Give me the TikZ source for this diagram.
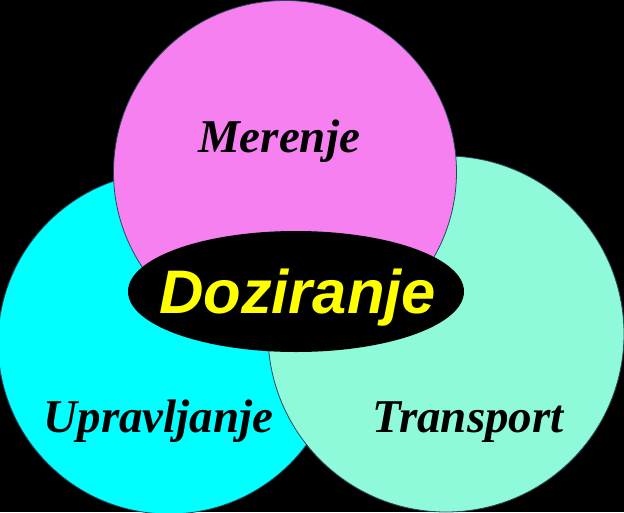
\documentclass[tikz,border=0pt]{standalone}
\usepackage{fontspec}
\setmainfont{Liberation Serif}
\newfontfamily\arialf{Liberation Sans}
\usetikzlibrary{shapes.geometric}
\definecolor{pinkc}{RGB}{247,128,240}
\definecolor{cyanc}{RGB}{0,255,255}
\definecolor{aquac}{RGB}{142,250,218}
\definecolor{yellowc}{RGB}{255,255,0}
\definecolor{edgec}{RGB}{40,70,90}
\tikzset{
  venn/.style={circle, inner sep=0pt, outer sep=0pt, draw=edgec, line width=0.8pt},
  lbl/.style={anchor=base, inner sep=0pt, font=\fontsize{47}{50}\selectfont\bfseries\itshape, text=black}
}
\begin{document}
\begin{tikzpicture}[x=1pt,y=-1pt]
\fill[black] (0,0) rectangle (624,512);
\useasboundingbox (0,0) rectangle (624,512);
\begin{scope}
\clip (0,0) rectangle (624,512);
\node[venn, fill=cyanc, minimum size=342pt] (upr) at (169,343) {};
\node[venn, fill=aquac, minimum size=356pt] (tra) at (446,334) {};
\node[venn, fill=pinkc, minimum size=343pt] (mer) at (285,172) {};
\node[ellipse, fill=black, inner sep=0pt, minimum width=336pt, minimum height=121pt] (doz) at (296,291.5) {};
\end{scope}
\node[lbl] (tmer) at (279,152) {Merenje};
\node[lbl] (tupr) at (158.5,432) {Upravljanje};
\node[lbl] (ttra) at (468,432) {Transport};
\node[anchor=base, inner sep=0pt, text=yellowc, font=\arialf\fontsize{61.5}{64}\selectfont\bfseries\itshape] (tdoz) at (297.5,313) {Doziranje};
\end{tikzpicture}
\end{document}
